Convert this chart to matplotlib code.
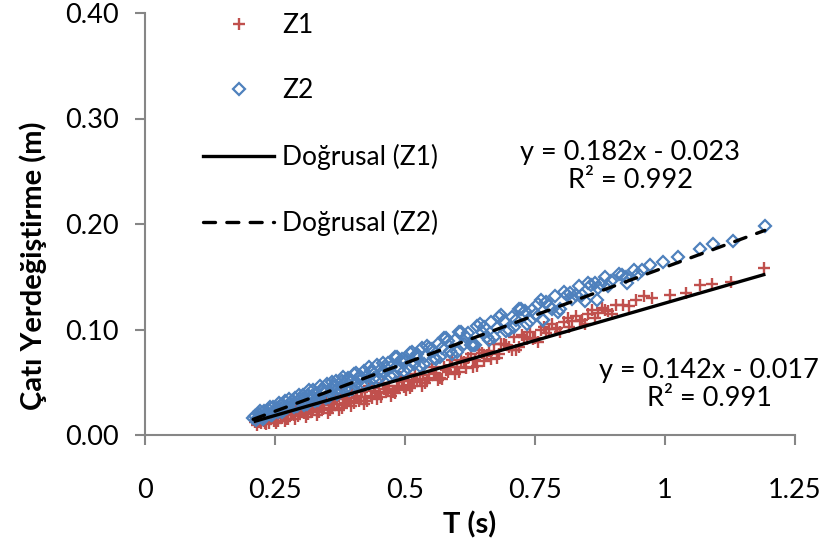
import numpy as np
import matplotlib
matplotlib.use("Agg")
import matplotlib.pyplot as plt
from matplotlib.ticker import FormatStrFormatter

plt.rcParams['font.family'] = ['Lato', 'DejaVu Sans']

# Z1 noktalari (T, yerdegistirme)
z1_t = [0.212, 0.218, 0.223, 0.227, 0.231, 0.236, 0.240, 0.245, 0.249, 0.254,
        0.258, 0.263, 0.268, 0.272, 0.277, 0.282, 0.286, 0.291, 0.296, 0.301,
        0.306, 0.311, 0.316, 0.321, 0.326, 0.332, 0.337, 0.342, 0.348, 0.353,
        0.359, 0.364, 0.370, 0.376, 0.381, 0.387, 0.393, 0.399, 0.405, 0.411,
        0.418, 0.424, 0.430, 0.437, 0.443, 0.450, 0.457, 0.463, 0.470, 0.477,
        0.484, 0.491, 0.498, 0.506, 0.513, 0.520, 0.528, 0.535, 0.543, 0.551,
        0.559, 0.567, 0.575, 0.583, 0.591, 0.600, 0.608, 0.617, 0.626, 0.634,
        0.643, 0.652, 0.662, 0.671, 0.680, 0.690, 0.700, 0.709, 0.719, 0.729,
        0.740, 0.750, 0.761, 0.771, 0.782, 0.793, 0.805, 0.816, 0.828, 0.840,
        0.852, 0.865, 0.878, 0.891, 0.905, 0.920, 0.945, 0.975, 1.010, 1.040,
        1.067, 1.090, 1.127, 1.190,
        0.215, 0.221, 0.229, 0.238, 0.247, 0.256, 0.265, 0.275, 0.284, 0.294,
        0.304, 0.314, 0.324, 0.335, 0.345, 0.356, 0.367, 0.379, 0.390, 0.402,
        0.415, 0.427, 0.440, 0.453, 0.467, 0.480, 0.494, 0.509, 0.524, 0.539,
        0.555, 0.571, 0.587, 0.604, 0.621, 0.638, 0.657, 0.676, 0.695, 0.714,
        0.735, 0.756, 0.777, 0.799, 0.822, 0.846, 0.871, 0.898, 0.930, 0.960,
        0.220, 0.233, 0.243, 0.252, 0.261, 0.270, 0.280, 0.289, 0.299, 0.309,
        0.319, 0.330, 0.340, 0.351, 0.362, 0.373, 0.384, 0.396, 0.408, 0.421,
        0.434, 0.447, 0.460, 0.474, 0.488, 0.502, 0.517, 0.532, 0.547, 0.563,
        0.579, 0.596, 0.613, 0.630, 0.648, 0.666, 0.685, 0.705, 0.725, 0.746,
        0.768, 0.790, 0.813, 0.836, 0.860, 0.885]
z1_d = [0.0121, 0.0160, 0.0117, 0.0162, 0.0118, 0.0165, 0.0151, 0.0198, 0.0134, 0.0181,
        0.0216, 0.0163, 0.0201, 0.0156, 0.0233, 0.0200, 0.0186, 0.0263, 0.0210, 0.0247,
        0.0205, 0.0282, 0.0249, 0.0216, 0.0293, 0.0251, 0.0289, 0.0246, 0.0334, 0.0291,
        0.0260, 0.0327, 0.0295, 0.0384, 0.0281, 0.0340, 0.0318, 0.0407, 0.0355, 0.0324,
        0.0404, 0.0362, 0.0461, 0.0351, 0.0419, 0.0399, 0.0489, 0.0407, 0.0467, 0.0407,
        0.0467, 0.0547, 0.0457, 0.0519, 0.0468, 0.0578, 0.0520, 0.0570, 0.0521, 0.0642,
        0.0574, 0.0545, 0.0647, 0.0598, 0.0709, 0.0642, 0.0713, 0.0636, 0.0769, 0.0710,
        0.0803, 0.0706, 0.0800, 0.0863, 0.0766, 0.0860, 0.0834, 0.0927, 0.0831, 0.0925,
        0.0981, 0.0915, 0.0991, 0.0965, 0.1050, 0.1016, 0.1073, 0.1019, 0.1126, 0.1093,
        0.1150, 0.1108, 0.1207, 0.1175, 0.1235, 0.1236, 0.1282, 0.1295, 0.1324, 0.1347,
        0.142, 0.143, 0.145, 0.158,
        0.0095, 0.0154, 0.0135, 0.0118, 0.0181, 0.0134, 0.0186, 0.0151, 0.0243, 0.0177,
        0.0232, 0.0196, 0.0270, 0.0216, 0.0280, 0.0236, 0.0341, 0.0258, 0.0354, 0.0301,
        0.0359, 0.0326, 0.0445, 0.0363, 0.0433, 0.0402, 0.0511, 0.0443, 0.0534, 0.0495,
        0.0588, 0.0531, 0.0644, 0.0598, 0.0732, 0.0656, 0.0763, 0.0730, 0.0857, 0.0804,
        0.0914, 0.0884, 0.1003, 0.0975, 0.1077, 0.1051, 0.1157, 0.1145, 0.1221, 0.1313,
        0.0122, 0.0101, 0.0185, 0.0118, 0.0171, 0.0133, 0.0188, 0.0150, 0.0235, 0.0169,
        0.0233, 0.0189, 0.0253, 0.0208, 0.0294, 0.0240, 0.0305, 0.0272, 0.0369, 0.0298,
        0.0366, 0.0345, 0.0433, 0.0373, 0.0443, 0.0423, 0.0504, 0.0465, 0.0537, 0.0520,
        0.0612, 0.0576, 0.0690, 0.0645, 0.0780, 0.0716, 0.0863, 0.0801, 0.0950, 0.0909,
        0.1021, 0.1002, 0.1105, 0.1077, 0.1181, 0.1187]

# Z2 noktalari
z2_t = [0.208, 0.214, 0.219, 0.224, 0.228, 0.233, 0.238, 0.242, 0.247, 0.251,
        0.256, 0.261, 0.265, 0.270, 0.275, 0.279, 0.284, 0.289, 0.294, 0.299,
        0.303, 0.308, 0.313, 0.319, 0.324, 0.329, 0.334, 0.340, 0.345, 0.350,
        0.356, 0.361, 0.367, 0.373, 0.378, 0.384, 0.390, 0.396, 0.402, 0.408,
        0.414, 0.421, 0.427, 0.434, 0.440, 0.447, 0.453, 0.460, 0.467, 0.474,
        0.481, 0.488, 0.495, 0.502, 0.509, 0.517, 0.524, 0.532, 0.539, 0.547,
        0.555, 0.563, 0.571, 0.579, 0.587, 0.596, 0.604, 0.613, 0.621, 0.630,
        0.639, 0.648, 0.657, 0.666, 0.676, 0.685, 0.695, 0.705, 0.714, 0.724,
        0.735, 0.745, 0.756, 0.766, 0.777, 0.788, 0.799, 0.811, 0.822, 0.834,
        0.846, 0.858, 0.871, 0.884, 0.897, 0.911, 0.925, 0.940, 0.955, 0.971,
        0.996, 1.025, 1.067, 1.092, 1.131, 1.192,
        0.211, 0.217, 0.226, 0.236, 0.245, 0.254, 0.263, 0.273, 0.282, 0.292,
        0.301, 0.311, 0.321, 0.332, 0.342, 0.353, 0.364, 0.375, 0.387, 0.399,
        0.411, 0.424, 0.437, 0.450, 0.464, 0.478, 0.492, 0.506, 0.521, 0.536,
        0.551, 0.567, 0.583, 0.600, 0.617, 0.634, 0.652, 0.671, 0.690, 0.710,
        0.730, 0.751, 0.772, 0.794, 0.817, 0.840, 0.865, 0.890, 0.918, 0.948,
        0.765, 0.869, 0.927,
        0.222, 0.231, 0.240, 0.249, 0.258, 0.268, 0.277, 0.287, 0.296, 0.306,
        0.316, 0.327, 0.337, 0.348, 0.359, 0.370, 0.381, 0.393, 0.405, 0.418,
        0.431, 0.444, 0.457, 0.471, 0.485, 0.499, 0.513, 0.528, 0.543, 0.559,
        0.575, 0.591, 0.608, 0.626, 0.644, 0.662, 0.681, 0.700, 0.720, 0.740,
        0.761, 0.783, 0.805, 0.828, 0.852, 0.877]
z2_d = [0.0159, 0.0139, 0.0199, 0.0168, 0.0225, 0.0194, 0.0233, 0.0190, 0.0270, 0.0237,
        0.0216, 0.0285, 0.0262, 0.0321, 0.0261, 0.0308, 0.0287, 0.0346, 0.0285, 0.0344,
        0.0381, 0.0331, 0.0380, 0.0331, 0.0430, 0.0389, 0.0368, 0.0439, 0.0408, 0.0487,
        0.0398, 0.0467, 0.0508, 0.0449, 0.0508, 0.0439, 0.0540, 0.0511, 0.0582, 0.0493,
        0.0563, 0.0606, 0.0557, 0.0610, 0.0541, 0.0664, 0.0624, 0.0587, 0.0680, 0.0643,
        0.0735, 0.0628, 0.0721, 0.0704, 0.0776, 0.0671, 0.0764, 0.0828, 0.0751, 0.0826,
        0.0730, 0.0865, 0.0829, 0.0924, 0.0798, 0.0905, 0.0979, 0.0866, 0.0970, 0.0857,
        0.1033, 0.0979, 0.0926, 0.1072, 0.1010, 0.1137, 0.0985, 0.1123, 0.1089, 0.1198,
        0.1048, 0.1186, 0.1246, 0.1094, 0.1224, 0.1314, 0.1194, 0.1326, 0.1286, 0.1408,
        0.1270, 0.1422, 0.1395, 0.1499, 0.1463, 0.1528, 0.1494, 0.1561, 0.1568, 0.1607,
        0.164, 0.169, 0.176, 0.181, 0.184, 0.198,
        0.0184, 0.0165, 0.0151, 0.0210, 0.0186, 0.0252, 0.0219, 0.0257, 0.0323, 0.0271,
        0.0328, 0.0296, 0.0374, 0.0334, 0.0422, 0.0362, 0.0452, 0.0403, 0.0504, 0.0436,
        0.0538, 0.0482, 0.0595, 0.0529, 0.0634, 0.0570, 0.0705, 0.0631, 0.0738, 0.0676,
        0.0813, 0.0742, 0.0891, 0.0782, 0.0933, 0.0854, 0.1027, 0.0931, 0.1076, 0.1022,
        0.1179, 0.1147, 0.1265, 0.1165, 0.1347, 0.1329, 0.1444, 0.1410, 0.1521, 0.1525,
        0.109, 0.128, 0.144,
        0.0224, 0.0170, 0.0267, 0.0213, 0.0300, 0.0238, 0.0344, 0.0262, 0.0379, 0.0287,
        0.0425, 0.0325, 0.0463, 0.0353, 0.0503, 0.0393, 0.0553, 0.0425, 0.0587, 0.0471,
        0.0644, 0.0508, 0.0682, 0.0557, 0.0743, 0.0608, 0.0784, 0.0651, 0.0848, 0.0717,
        0.0917, 0.0766, 0.0977, 0.0849, 0.1052, 0.0905, 0.1119, 0.0994, 0.1190, 0.1077,
        0.1275, 0.1195, 0.1355, 0.1327, 0.1441, 0.1436]

# dogrusal egilim cizgileri (egim, kesim, R2)
fit_z1 = [0.142, -0.017, 0.991]
fit_z2 = [0.182, -0.023, 0.992]

red = '#C0504D'
blue = '#4F81BD'
gray = '#868686'

fig = plt.figure(figsize=(8.26, 5.6), dpi=100)
ax = fig.add_axes([145/826, 1-435/560, 650/826, 422/560])

ax.plot(z1_t, z1_d, ls='none', marker='+', ms=9, mew=1.7, color=red, label='Z1', zorder=2)
ax.plot(z2_t, z2_d, ls='none', marker='D', ms=6.5, mew=1.6, mfc='none', mec=blue,
        label='Z2', zorder=3)

x1 = np.array([min(z1_t), max(z1_t)])
x2 = np.array([min(z2_t), max(z2_t)])
ax.plot(x1, fit_z1[0]*x1 + fit_z1[1], color='black', lw=2.4, label='Doğrusal (Z1)', zorder=4)
ax.plot(x2, fit_z2[0]*x2 + fit_z2[1], color='black', lw=2.4, ls=(0, (3.6, 3.4)),
        dash_capstyle='round', label='Doğrusal (Z2)', zorder=4)

ax.set_xlim(0, 1.25)
ax.set_ylim(0, 0.40)
ax.set_xticks([0, 0.25, 0.5, 0.75, 1, 1.25])
ax.set_xticklabels(['0', '0.25', '0.5', '0.75', '1', '1.25'])
ax.set_yticks([0, 0.1, 0.2, 0.3, 0.4])
ax.yaxis.set_major_formatter(FormatStrFormatter('%.2f'))

for s in ['top', 'right']:
    ax.spines[s].set_visible(False)
for s in ['left', 'bottom']:
    ax.spines[s].set_color(gray)
    ax.spines[s].set_linewidth(1.5)
ax.tick_params(axis='both', direction='out', length=7, width=1.5, color=gray,
               labelsize=19.5, labelcolor='black')
ax.tick_params(axis='x', pad=24)
ax.tick_params(axis='y', pad=12)

ax.set_xlabel('T (s)', fontsize=21, fontweight='bold', labelpad=6)
ax.set_ylabel('Çatı Yerdeğiştirme (m)', fontsize=21, fontweight='bold')
ax.yaxis.set_label_coords(-0.15, 0.40)

ax.legend(loc='upper left', bbox_to_anchor=(0.053, 1.056), frameon=False, fontsize=19,
          numpoints=1, handlelength=2.7, handletextpad=0.3, labelspacing=1.53)

ax.text(0.933, 0.2545, 'y = %.3fx - %.3f\nR² = %.3f' % (fit_z2[0], -fit_z2[1], fit_z2[2]),
        ha='center', va='center', fontsize=19.5, linespacing=1.15)
ax.text(1.085, 0.0483, 'y = %.3fx - %.3f\nR² = %.3f' % (fit_z1[0], -fit_z1[1], fit_z1[2]),
        ha='center', va='center', fontsize=19.5, linespacing=1.15)

fig.savefig('out.png', dpi=100)
